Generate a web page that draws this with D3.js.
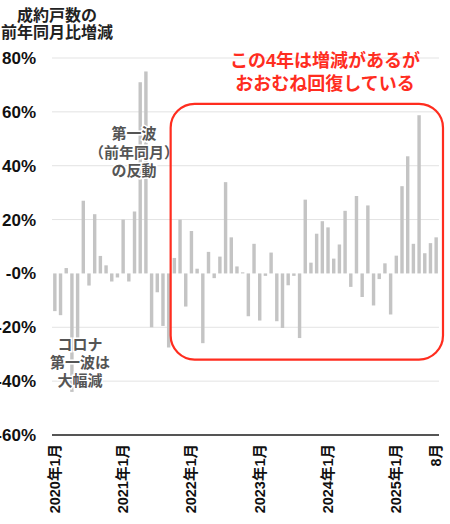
<!DOCTYPE html>
<meta charset="utf-8">
<style>
  body { margin: 0; background: #fff; }
  svg { display: block; background: #fff; }
  text { font-family: "Liberation Sans", Arial, "Noto Sans CJK JP", sans-serif; }
  .grid line { stroke: #e3e3e3; stroke-width: 1; }
  .ytick text { font-size: 17px; font-weight: bold; fill: #111; }
  .xtick text { font-size: 14.5px; font-weight: bold; fill: #111; }
  .bar { fill: #c4c4c4; }
  .note { font-size: 15px; font-weight: bold; fill: #555; }
  .red { font-size: 18px; font-weight: bold; fill: #ff2d1f; }
</style>
<body>
</body>
<script src="https://cdn.jsdelivr.net/npm/d3@7"></script>
<script>
  // year-on-year change in contracted units, monthly 2020/1 .. 2025/8
  const years = [2020, 2021, 2022, 2023, 2024, 2025];
  const yoy = [
    -14, -15.5, 2, -44, -24, 27, -4.5, 22, 6.5, 3, -3, -1.5,
    20, -3, 23, 71, 75, -20, -7, -19.5, -27.5, 5.75, 20, -12.3,
    15.75, 1.75, -25.9, 8, -1.75, 6.25, 33.9, 13.4, 2.6, 0.4, -15.9, 11,
    -17.5, -0.9, 7.75, -17.75, -20.25, -4.4, -0.9, -24, 27.4, 4, 14.75, 19.4,
    17.1, 5.5, 10.75, 23.25, -5, 28.75, -8.75, 25.25, -11.9, -2.1, 3.75, -15.25,
    6.6, 32.4, 43.5, 11, 58.75, 7.5, 11.25, 13.4,
  ];
  const yTicks = [80, 60, 40, 20, 0, -20, -40, -60];
  const yTickLabels = ['80%', '60%', '40%', '20%', '-0%', '-20%', '-40%', '-60%'];
  const xTickMonths = ['2020-01', '2021-01', '2022-01', '2023-01', '2024-01', '2025-01', '2025-08'];
  const xTickLabels = ['2020年1月', '2021年1月', '2022年1月', '2023年1月', '2024年1月', '2025年1月', '8月'];
  const titleLines = ['成約戸数の', '前年同月比増減'];
  const noteTop = ['第一波', '（前年同月）', 'の反動'];
  const noteLow = ['コロナ', '第一波は', '大幅減'];
  const noteRed = ['この4年は増減があるが', 'おおむね回復している'];

  const months = [];
  years.forEach(y => d3.range(1, 13).forEach(m => months.push(`${y}-${String(m).padStart(2, '0')}`)));
  months.length = yoy.length;
  const data = months.map((k, i) => ({k, v: yoy[i]}));

  const w = 450, h = 524;
  const l = 52, r = 439, t = 58, b = 435;

  const svg = d3.select('body').append('svg')
    .attr('width', w)
    .attr('height', h);

  const x = d3.scaleBand().domain(months).range([l, r]).paddingInner(0.4).paddingOuter(0.2);
  const y = d3.scaleLinear().domain([-60, 80]).range([b, t]);

  // grid
  svg.append('g').attr('class', 'grid')
    .selectAll('line')
    .data(yTicks.filter(v => v !== 0 && v !== -60))
    .join('line')
    .attr('x1', l).attr('x2', r)
    .attr('y1', d => y(d)).attr('y2', d => y(d));

  // left labels
  svg.append('g')
    .attr('class', 'ytick')
    .attr('transform', `translate(${l}, 0)`)
    .call(d3.axisLeft(y)
            .tickValues(yTicks)
            .tickFormat((d, i) => yTickLabels[i])
            .tickSize(0)
            .tickPadding(16))
    .call(g => g.select('.domain').remove())
    .call(g => g.selectAll('text').attr('font-family', null).attr('font-size', null));

  // bars
  svg.append('g')
    .selectAll('rect')
    .data(data)
    .join('rect')
    .attr('class', 'bar')
    .attr('x', d => x(d.k))
    .attr('width', x.bandwidth())
    .attr('y', d => y(Math.max(0, d.v)))
    .attr('height', d => Math.abs(y(d.v) - y(0)));

  // bottom axis
  svg.append('line')
    .attr('x1', l).attr('x2', r)
    .attr('y1', y(-60)).attr('y2', y(-60))
    .attr('stroke', '#555').attr('stroke-width', 2);

  svg.append('g')
    .attr('class', 'xtick')
    .selectAll('text')
    .data(xTickMonths)
    .join('text')
    .attr('transform', d => `translate(${x(d) + x.bandwidth() / 2 + 5}, ${y(-60) + 9}) rotate(-90)`)
    .attr('text-anchor', 'end')
    .text((d, i) => xTickLabels[i]);

  // title
  svg.append('g')
    .selectAll('text')
    .data(titleLines)
    .join('text')
    .attr('x', 57)
    .attr('y', (d, i) => 21 + i * 17)
    .attr('text-anchor', 'middle')
    .attr('font-size', 16)
    .attr('font-weight', 'bold')
    .attr('fill', '#222')
    .text(d => d);

  // notes
  const note = (lines, cx, y0, lh, cls) => svg.append('g')
    .selectAll('text')
    .data(lines)
    .join('text')
    .attr('class', cls)
    .attr('x', cx)
    .attr('y', (d, i) => y0 + i * lh)
    .attr('text-anchor', 'middle')
    .attr('stroke', '#fff')
    .attr('stroke-width', 3)
    .attr('paint-order', 'stroke')
    .text(d => d);

  note(noteTop, 134, 139, 18.5, 'note');
  note(noteLow, 80, 350, 18, 'note');

  // highlight box
  const boxFrom = x('2021-10') - 2, boxTo = r + 4;
  svg.append('rect')
    .attr('x', boxFrom).attr('y', y(63))
    .attr('width', boxTo - boxFrom)
    .attr('height', y(-32) - y(63))
    .attr('rx', 24).attr('ry', 24)
    .attr('fill', 'none')
    .attr('stroke', '#ff2d1f')
    .attr('stroke-width', 2.2);

  svg.append('g')
    .selectAll('text')
    .data(noteRed)
    .join('text')
    .attr('class', 'red')
    .attr('x', 325)
    .attr('y', (d, i) => 67 + i * 23)
    .attr('text-anchor', 'middle')
    .text(d => d);
</script>
